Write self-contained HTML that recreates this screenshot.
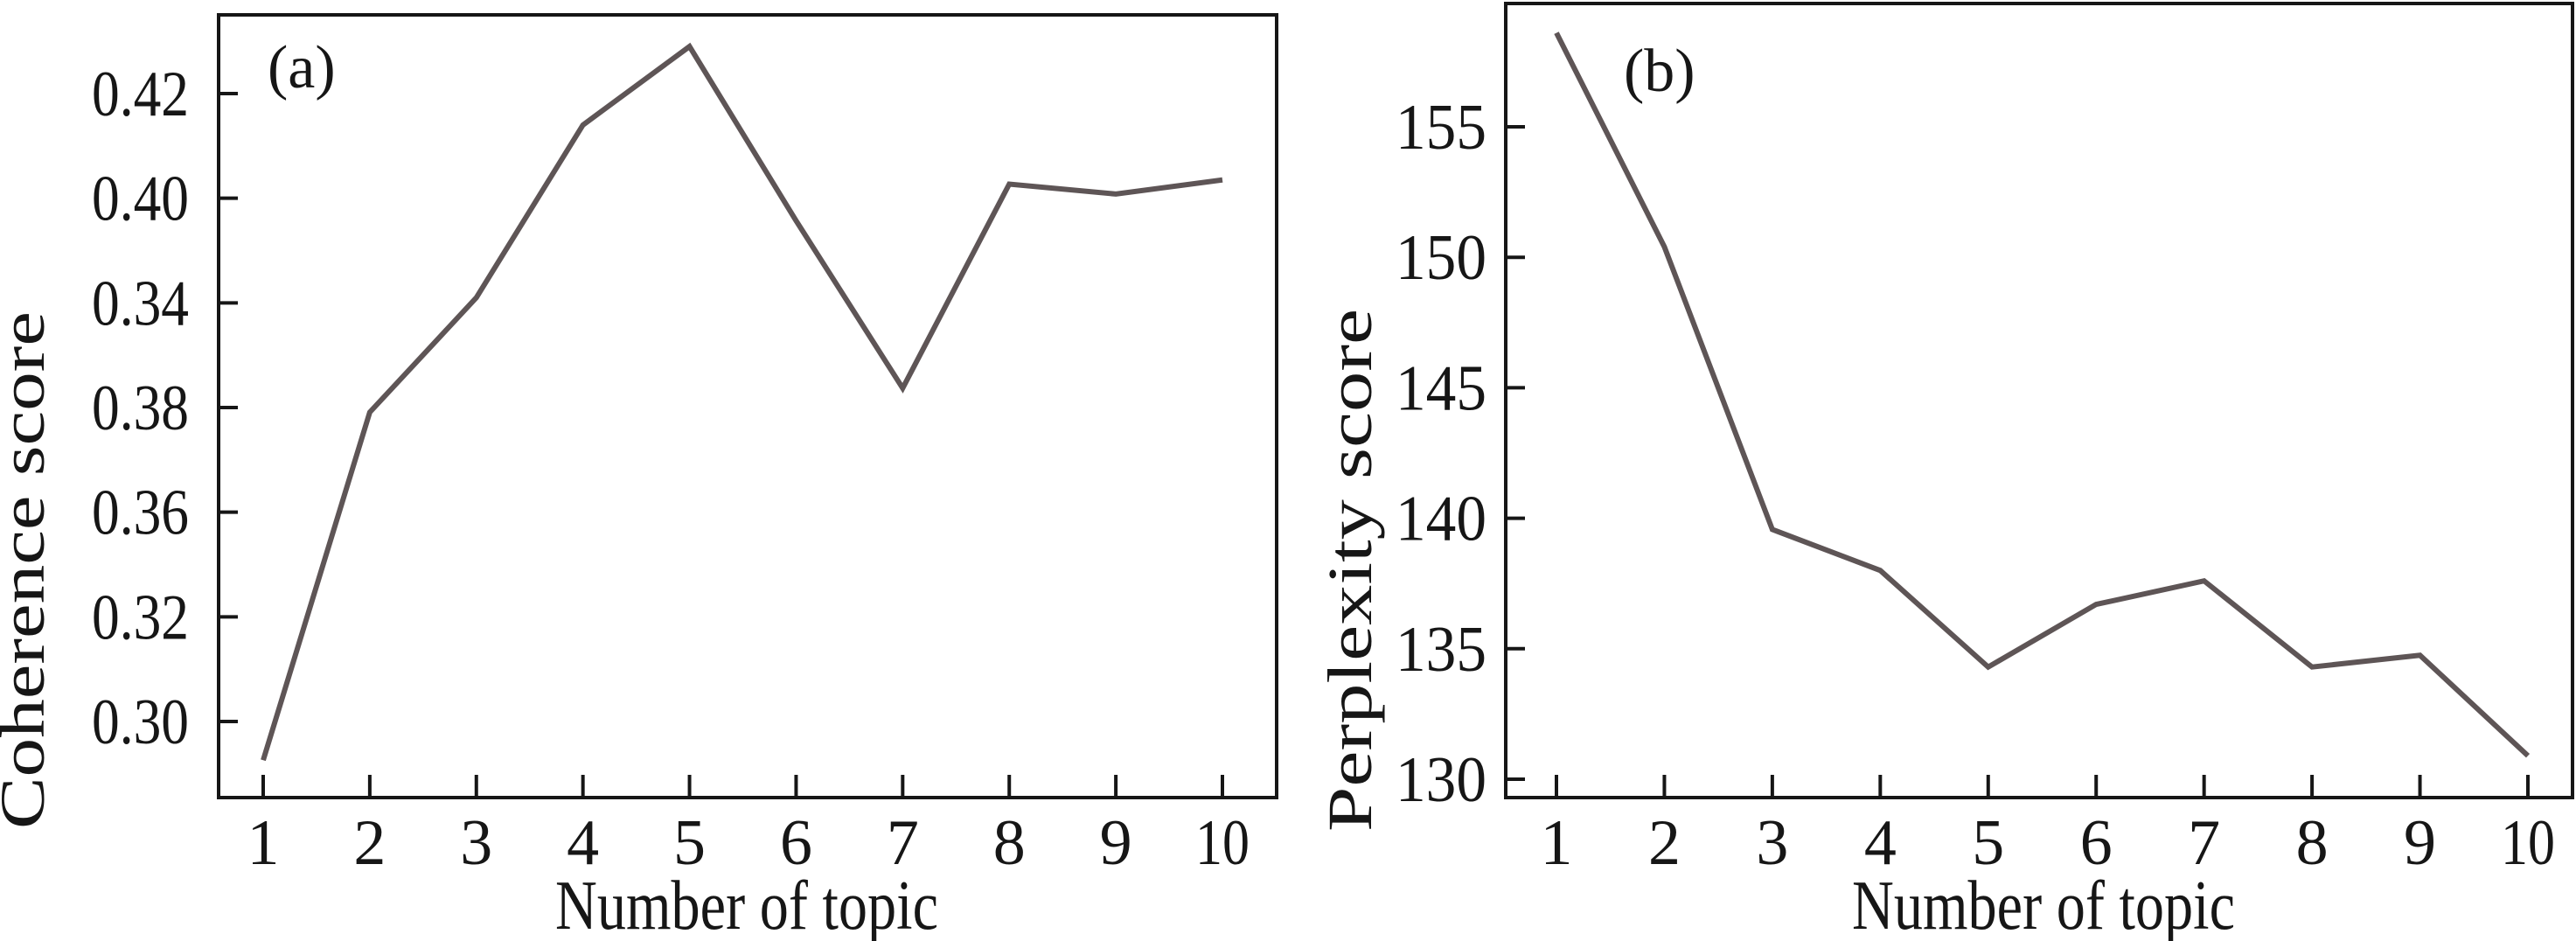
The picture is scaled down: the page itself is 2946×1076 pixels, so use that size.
<!DOCTYPE html>
<html><head><meta charset="utf-8"><style>
html,body{margin:0;padding:0;background:#fff;overflow:hidden;}
svg{display:block;font-family:"Liberation Serif",serif;}
</style></head><body>
<svg id="chart" width="2946" height="1076" xmlns="http://www.w3.org/2000/svg"></svg>
<script>
const topics = [1,2,3,4,5,6,7,8,9,10];
const coherenceValues = [0.2926,0.3591,0.3810,0.4140,0.4290,0.3957,0.3637,0.4027,0.4008,0.4035];
const coherenceTickValues = [0.30,0.32,0.34,0.36,0.38,0.40,0.42];
const coherenceTickLabels = ["0.30","0.32","0.36","0.38","0.34","0.40","0.42"];
const perplexityValues = [158.6,150.4,139.57,138.0,134.3,136.7,137.6,134.3,134.75,130.9];
const perplexityTickValues = [130,135,140,145,150,155];
const perplexityTickLabels = ["130","135","140","145","150","155"];

const NS="http://www.w3.org/2000/svg";
const svg=document.getElementById('chart');
function mk(tag,attrs,parent){const e=document.createElementNS(NS,tag);for(const k in attrs)e.setAttribute(k,attrs[k]);(parent||svg).appendChild(e);return e;}

function panel(cfg){
  const g=mk('g',{});
  
  
  const xS=v=>cfg.x1+(v-1)*(cfg.x10-cfg.x1)/9;
  const yS=v=>cfg.yLo+(v-cfg.vLo)*(cfg.yHi-cfg.yLo)/(cfg.vHi-cfg.vLo);
  const box=mk('rect',{x:cfg.left,y:cfg.top,width:cfg.right-cfg.left,height:cfg.bottom-cfg.top,fill:'none',stroke:'#161616','stroke-width':4},g);
  
  
  cfg.tickVals.forEach((v,i)=>{
    const y=yS(v);
    const t=mk('line',{x1:cfg.left,x2:cfg.left+22,y1:y,y2:y,stroke:'#161616','stroke-width':4},g);
    
    
    const lab=cfg.tickLabels[i];
    const l=mk('text',{x:cfg.labelRight,y:y+25,'text-anchor':'end','font-size':74,fill:'#161616',textLength:lab.length===4?111:104,lengthAdjust:'spacingAndGlyphs'},g);
    l.textContent=lab;
    
    
  });
  topics.forEach(t=>{
    const x=xS(t);
    const tk=mk('line',{x1:x,x2:x,y1:cfg.bottom,y2:cfg.bottom-26,stroke:'#161616','stroke-width':4},g);
    
    
    const l=mk('text',{x:x,y:988,'text-anchor':'middle','font-size':74,fill:'#161616'},g);
    if(t===10){l.setAttribute('textLength',62);l.setAttribute('lengthAdjust','spacingAndGlyphs');}
    l.textContent=String(t);
    
    
  });
  const pts=topics.map((t,i)=>xS(t)+','+yS(cfg.values[i])).join(' ');
  const line=mk('polyline',{points:pts,fill:'none',stroke:'#5e5556','stroke-width':6,'stroke-linejoin':'miter'},g);
  
  
  const xt=mk('text',{x:cfg.xTitleX,y:1062,'text-anchor':'middle','font-size':80,fill:'#161616',textLength:438,lengthAdjust:'spacingAndGlyphs'},g);
  xt.textContent='Number of topic';
  
  
  const yt=mk('text',{x:0,y:0,'text-anchor':'middle','font-size':72,fill:'#161616',textLength:cfg.yTitleLen,lengthAdjust:'spacingAndGlyphs',transform:`translate(${cfg.yTitleX},652) rotate(-90)`},g);
  yt.textContent=cfg.yTitle;
  
  
  const pl=mk('text',{x:cfg.labelX,y:cfg.labelY,'font-size':70,fill:'#161616'},g);
  pl.textContent=cfg.panelLabel;
  
  
}
panel({name:'coherence-panel',left:250,top:17,right:1460,bottom:912,x1:301,x10:1398,
  vLo:0.30,yLo:825,vHi:0.42,yHi:107,values:coherenceValues,tickVals:coherenceTickValues,
  tickLabels:coherenceTickLabels,labelRight:216,xTitleX:854,yTitle:'Coherence score',yTitleX:50,yTitleLen:592,
  panelLabel:'(a)',labelX:306,labelY:100});
panel({name:'perplexity-panel',left:1722,top:4,right:2942,bottom:912,x1:1780,x10:2891,
  vLo:130,yLo:891,vHi:155,yHi:145,values:perplexityValues,tickVals:perplexityTickValues,
  tickLabels:perplexityTickLabels,labelRight:1700,xTitleX:2337,yTitle:'Perplexity score',yTitleX:1568,yTitleLen:598,
  panelLabel:'(b)',labelX:1857,labelY:104});
</script>
</body></html>
